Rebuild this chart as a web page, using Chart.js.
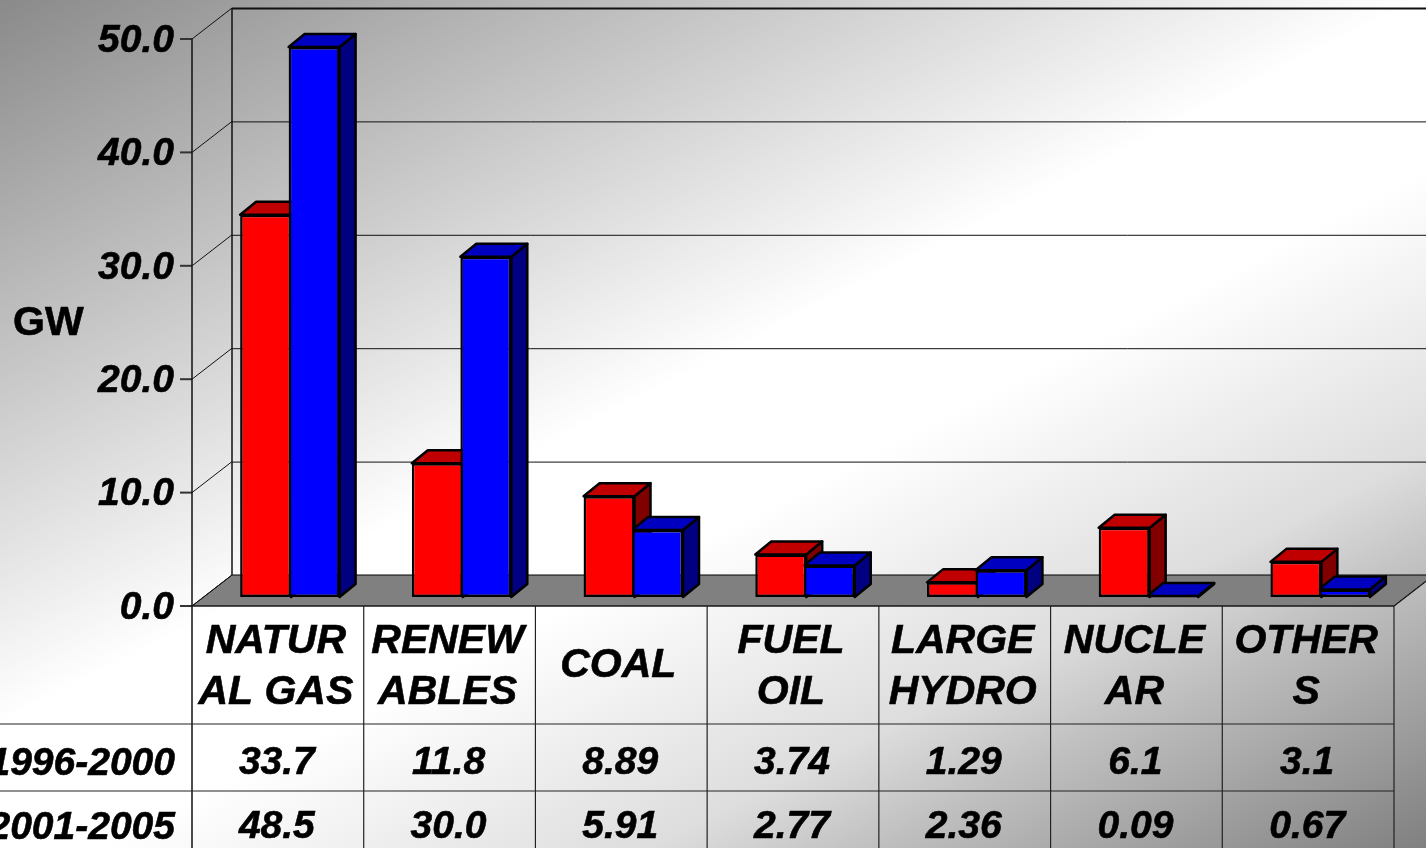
<!DOCTYPE html>
<html>
<head>
<meta charset="utf-8">
<title>GW by fuel</title>
<script src="https://cdn.jsdelivr.net/npm/chart.js@4"></script>
<style>
  html, body { margin: 0; padding: 0; width: 1426px; height: 848px; overflow: hidden; }
  body { background: linear-gradient(153deg, #8a8a8a 0%, #ffffff 46%, #ffffff 57%, #dddddd 75%, #c0c0c0 82%, #808080 100%); }
  canvas { display: block; }
</style>
</head>
<body>
<canvas id="gwChart" width="1426" height="848"></canvas>
<script>
const categories = [['NATUR', 'AL GAS'], ['RENEW', 'ABLES'], ['COAL'], ['FUEL', 'OIL'], ['LARGE', 'HYDRO'], ['NUCLE', 'AR'], ['OTHER', 'S']];
const seriesNames = ['1996-2000', '2001-2005'];
const values1996 = [33.7, 11.8, 8.89, 3.74, 1.29, 6.1, 3.1];
const values2001 = [48.5, 30.0, 5.91, 2.77, 2.36, 0.09, 0.67];
const table1996 = ['33.7', '11.8', '8.89', '3.74', '1.29', '6.1', '3.1'];
const table2001 = ['48.5', '30.0', '5.91', '2.77', '2.36', '0.09', '0.67'];
const tickValues = [0, 10, 20, 30, 40, 50];
const tickLabels = ['0.0', '10.0', '20.0', '30.0', '40.0', '50.0'];

const BOLD_ITALIC = 'italic bold 39px "Liberation Sans", Arial, sans-serif';
const CATEGORY_FONT = 'italic bold 41px "Liberation Sans", Arial, sans-serif';
const BOLD = 'bold 41px "Liberation Sans", Arial, sans-serif';

// offsets of the fake 3D box, relative to the plane the bars stand on
const FRONT_DX = -12, FRONT_DY = 9;
const WALL_DX = 28, WALL_DY = -22;
const BAR_DX = 16, BAR_DY = 13;

function line(ctx, x1, y1, x2, y2) {
  ctx.beginPath();
  ctx.moveTo(x1, y1);
  ctx.lineTo(x2, y2);
  ctx.stroke();
}

function face(ctx, points, color) {
  ctx.beginPath();
  points.forEach((p, i) => i ? ctx.lineTo(p[0], p[1]) : ctx.moveTo(p[0], p[1]));
  ctx.closePath();
  ctx.fillStyle = color;
  ctx.fill();
  ctx.stroke();
}

// the reference text is a little heavier than the plain bold face
function heavyText(ctx, text, x, y) {
  ctx.fillText(text, x, y);
  ctx.strokeText(text, x, y);
}

const box3d = {
  id: 'box3d',
  // walls, floor and the top/side faces go under the bars the library draws
  beforeDatasetsDraw(chart) {
    const { ctx, scales: { x, y } } = chart;
    const frontL = x.left + FRONT_DX, frontR = x.right + FRONT_DX;
    const base = y.getPixelForValue(0);
    ctx.save();
    ctx.strokeStyle = '#000';
    ctx.lineWidth = 1;

    face(ctx, [[frontL, base + FRONT_DY], [frontR, base + FRONT_DY], [x.right + WALL_DX, base + WALL_DY], [x.left + WALL_DX, base + WALL_DY]], '#808080');

    tickValues.forEach(v => {
      const py = y.getPixelForValue(v);
      ctx.lineWidth = v === 50 ? 2 : 1;
      ctx.strokeStyle = '#111';
      if (v > 0) line(ctx, x.left + WALL_DX, py + WALL_DY + 0.5, 1426, py + WALL_DY + 0.5);
      ctx.lineWidth = 1;
      line(ctx, frontL, py + FRONT_DY, x.left + WALL_DX, py + WALL_DY);
      ctx.strokeStyle = '#333';
      ctx.lineWidth = 2;
      line(ctx, frontL - 12, py + FRONT_DY, frontL, py + FRONT_DY);
    });
    ctx.strokeStyle = '#111';
    ctx.lineWidth = 1.5;
    line(ctx, x.left + WALL_DX, y.getPixelForValue(50) + WALL_DY, x.left + WALL_DX, base + WALL_DY);
    line(ctx, frontL, y.getPixelForValue(50) + FRONT_DY, frontL, 848);

    ctx.strokeStyle = '#000';
    ctx.lineWidth = 2.5;
    ctx.lineJoin = 'round';
    const colors = [['#c00000', '#800000'], ['#0000c0', '#000080']];
    [0, 1].forEach(d => {
      chart.getDatasetMeta(d).data.forEach(bar => {
        const l = bar.x - bar.width / 2, r = bar.x + bar.width / 2;
        face(ctx, [[r, bar.y], [r + BAR_DX, bar.y - BAR_DY], [r + BAR_DX, bar.base - BAR_DY], [r, bar.base]], colors[d][1]);
        face(ctx, [[l, bar.y], [l + BAR_DX, bar.y - BAR_DY], [r + BAR_DX, bar.y - BAR_DY], [r, bar.y]], colors[d][0]);
      });
    });
    ctx.restore();
  },
  // data table and axis text
  afterDatasetsDraw(chart) {
    const { ctx, scales: { x, y } } = chart;
    const frontL = x.left + FRONT_DX, frontR = x.right + FRONT_DX;
    const colW = (frontR - frontL) / categories.length;
    const top = y.getPixelForValue(0) + FRONT_DY;
    ctx.save();
    ctx.strokeStyle = '#222';
    ctx.lineWidth = 1.2;
    line(ctx, frontL, top, frontR, top);
    line(ctx, 0, 724, frontR, 724);
    line(ctx, 0, 791, frontR, 791);
    for (let i = 1; i <= categories.length; i++) {
      line(ctx, frontL + i * colW, top, frontL + i * colW, 848);
    }
    line(ctx, frontR, top, x.right + WALL_DX, top - (FRONT_DY - WALL_DY));

    ctx.fillStyle = '#000';
    ctx.strokeStyle = '#000';
    ctx.lineWidth = 0.6;
    ctx.textBaseline = 'middle';
    ctx.font = BOLD_ITALIC;
    ctx.textAlign = 'right';
    tickValues.forEach((v, i) => heavyText(ctx, tickLabels[i], 174, y.getPixelForValue(v) + FRONT_DY + 2));
    heavyText(ctx, seriesNames[0], 175, 764);
    heavyText(ctx, seriesNames[1], 175, 828);

    ctx.textAlign = 'center';
    categories.forEach((lines, i) => {
      const cx = frontL + (i + 0.5) * colW - 1;
      ctx.font = CATEGORY_FONT;
      if (lines.length === 1) {
        heavyText(ctx, lines[0], cx - 2, 666);
      } else {
        heavyText(ctx, lines[0], cx - 1, 642);
        heavyText(ctx, lines[1], cx - 1, 693);
      }
      ctx.font = BOLD_ITALIC;
      heavyText(ctx, table1996[i], cx, 763);
      heavyText(ctx, table2001[i], cx, 827);
    });

    ctx.font = BOLD;
    ctx.textAlign = 'left';
    heavyText(ctx, 'GW', 13, 324);
    ctx.restore();
  }
};

const ctx = document.getElementById('gwChart').getContext('2d');
new Chart(ctx, {
  type: 'bar',
  data: {
    labels: categories,
    datasets: [
      { label: seriesNames[0], data: values1996, backgroundColor: '#ff0000', borderColor: '#000', borderWidth: 2.5, borderSkipped: false },
      { label: seriesNames[1], data: values2001, backgroundColor: '#0000ff', borderColor: '#000', borderWidth: 2.5, borderSkipped: false }
    ]
  },
  options: {
    responsive: false,
    animation: false,
    layout: { padding: { left: 204, right: 20, top: 30, bottom: 251 } },
    plugins: { legend: { display: false }, tooltip: { enabled: false } },
    // bars overlap by one border width so neighbours share a single line
    datasets: { bar: { categoryPercentage: 0.565, barPercentage: 1.05 } },
    scales: {
      x: { display: false },
      y: { display: false, min: 0, max: 50, ticks: { stepSize: 10 } }
    }
  },
  plugins: [box3d]
});
</script>
</body>
</html>
